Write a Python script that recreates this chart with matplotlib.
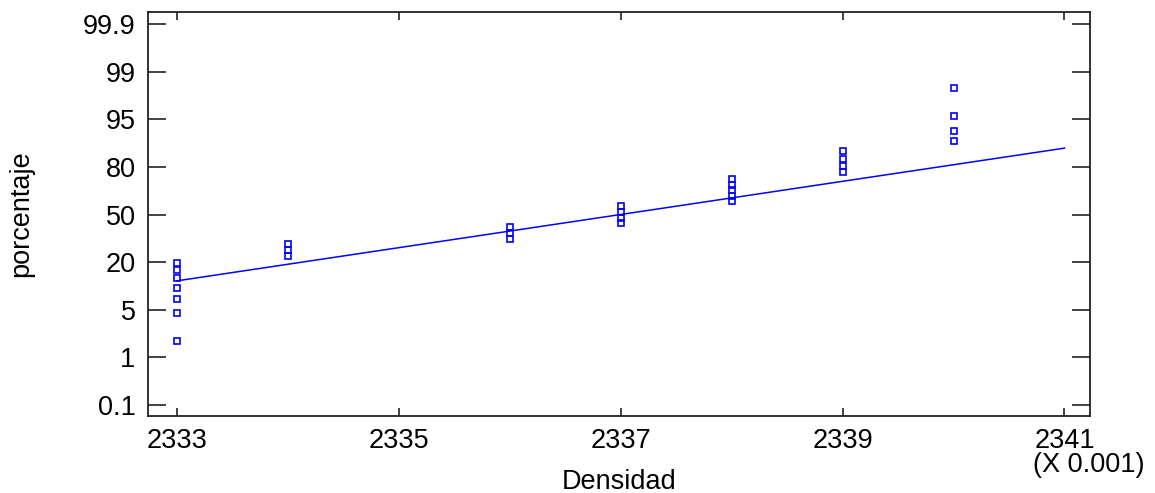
import numpy as np
import matplotlib
matplotlib.use("Agg")
from matplotlib import pyplot as plt

plt.rcParams["font.family"] = ["Liberation Sans", "DejaVu Sans"]

# probability-paper labels, drawn evenly spaced as in the original
prob_ticks = [0.1, 1, 5, 20, 50, 80, 95, 99, 99.9]
prob_labels = ["0.1", "1", "5", "20", "50", "80", "95", "99", "99.9"]
x_ticks = [2333, 2335, 2337, 2339, 2341]

# Densidad (x 0.001) and cumulative percentage of each observation
dens = [2333] * 7 + [2334] * 3 + [2336] * 3 + [2337] * 4 + [2338] * 5 + [2339] * 4 + [2340] * 4
pct = [19.6, 17.5, 15.0, 11.9, 8.4, 4.7, 2.4,
       31.4, 27.6, 23.9,
       42.1, 38.4, 34.6,
       55.4, 51.3, 47.8, 44.7,
       72.4, 68.6, 65.4, 61.6, 58.5,
       85.1, 82.5, 80.4, 76.8,
       97.6, 95.3, 91.4, 88.1]

fit_x = [2333, 2341]
fit_pct = [14.1, 85.9]

idx = np.arange(len(prob_ticks), dtype=float)
pt = np.array(prob_ticks)


def fwd(p):
    p = np.asarray(p, dtype=float)
    out = np.interp(p, pt, idx)
    lo = pt[1] - pt[0]
    hi = pt[-1] - pt[-2]
    out = np.where(p < pt[0], (p - pt[0]) / lo, out)
    out = np.where(p > pt[-1], idx[-1] + (p - pt[-1]) / hi, out)
    return out


def inv(s):
    s = np.asarray(s, dtype=float)
    out = np.interp(s, idx, pt)
    lo = pt[1] - pt[0]
    hi = pt[-1] - pt[-2]
    out = np.where(s < 0, pt[0] + s * lo, out)
    out = np.where(s > idx[-1], pt[-1] + (s - idx[-1]) * hi, out)
    return out


fig = plt.figure(figsize=(11.55, 4.93), dpi=100)
ax = fig.add_axes([148 / 1155, 1 - 416 / 493, 942 / 1155, 404 / 493])
ax.set_yscale("function", functions=(fwd, inv))

ax.plot(fit_x, fit_pct, color="#0000ff", linewidth=1.1)
ax.plot(dens, pct, linestyle="", marker="s", markersize=4.6,
        markerfacecolor="none", markeredgecolor="#0000ff", markeredgewidth=1.2)

ax.set_xlim(2332.74, 2341.23)
ax.set_ylim(float(inv(-0.231)), float(inv(8.252)))
ax.set_yticks(prob_ticks)
ax.set_yticklabels(prob_labels)
ax.yaxis.set_minor_locator(matplotlib.ticker.NullLocator())
ax.set_xticks(x_ticks)
ax.set_xticklabels([str(v) for v in x_ticks])

ax.tick_params(axis="y", direction="in", length=13, width=1.2, left=True, right=True,
               labelsize=19.5, pad=9, color="#222222")
ax.tick_params(axis="x", direction="in", length=6, width=1.2, top=True, bottom=True,
               labelsize=19.5, pad=9, color="#222222")
for sp in ax.spines.values():
    sp.set_linewidth(1.3)
    sp.set_color("#222222")

ax.set_xlabel("Densidad", fontsize=19.5)
ax.set_ylabel("porcentaje", fontsize=19.5)
ax.xaxis.set_label_coords(0.5, -0.13)
ax.yaxis.set_label_coords(-0.121, 0.5)

fig.text(1033 / 1155, 1 - 452 / 493, "(X 0.001)", fontsize=19.5, va="top", ha="left")

fig.savefig("out.png", dpi=100)
plt.close()
